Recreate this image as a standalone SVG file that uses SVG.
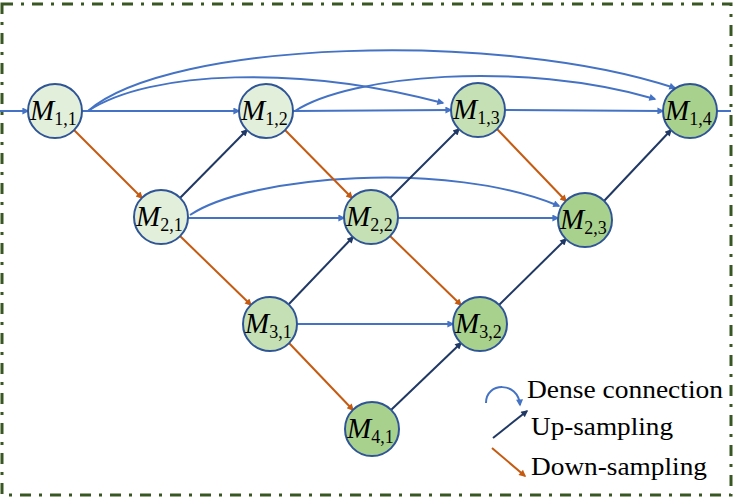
<svg xmlns="http://www.w3.org/2000/svg" width="735" height="498" viewBox="0 0 735 498">
<style>
.node circle{stroke:#2f5597;stroke-width:2}
.l1{fill:#e2efda}.l2{fill:#c5e0b4}.l3{fill:#a9d18e}
.lab{font-family:"Liberation Serif","Times New Roman",serif;fill:#000}
.m{font-style:italic;font-size:29px}
.s{font-size:18px}
.dense{stroke:#4472c4;stroke-width:2;fill:none;marker-end:url(#aB)}
.up{stroke:#203864;stroke-width:2;fill:none;marker-end:url(#aN)}
.down{stroke:#c55a11;stroke-width:2;fill:none;marker-end:url(#aO)}
.leg{font-family:"Liberation Serif","Times New Roman",serif;font-size:26px;fill:#000}
</style>
<defs>
<marker id="aB" viewBox="0 0 10 10" refX="8" refY="5" markerWidth="9" markerHeight="7" markerUnits="userSpaceOnUse" orient="auto"><path d="M0,0L10,5L0,10z" fill="#4472c4"/></marker>
<marker id="aN" viewBox="0 0 10 10" refX="8" refY="5" markerWidth="9" markerHeight="7" markerUnits="userSpaceOnUse" orient="auto"><path d="M0,0L10,5L0,10z" fill="#203864"/></marker>
<marker id="aO" viewBox="0 0 10 10" refX="8" refY="5" markerWidth="9" markerHeight="7" markerUnits="userSpaceOnUse" orient="auto"><path d="M0,0L10,5L0,10z" fill="#c55a11"/></marker>
</defs>
<rect x="2" y="4" width="729" height="491" fill="none" stroke="#385723" stroke-width="3" stroke-dasharray="11 8 3 8"/>
<g id="connectors">
<line class="dense" x1="0" y1="111" x2="28" y2="111"/>
<line x1="717" y1="111" x2="731" y2="111" stroke="#4472c4" stroke-width="2"/>
<line class="dense" x1="82" y1="111" x2="239" y2="111"/>
<line class="dense" x1="293" y1="111" x2="451" y2="110"/>
<line class="dense" x1="505" y1="110" x2="663" y2="111"/>
<line class="dense" x1="188" y1="218" x2="344" y2="218"/>
<line class="dense" x1="398" y1="218" x2="558" y2="218"/>
<line class="dense" x1="297" y1="324" x2="453" y2="324"/>
<path class="dense" d="M88,111 C170,40 500,30 675,88"/>
<path class="dense" d="M88,111 C150,70 300,65 443,103"/>
<path class="dense" d="M295,111 C350,75 520,60 655,99"/>
<path class="dense" d="M190,215 C250,175 450,160 559,206"/>
<line class="down" x1="74" y1="130" x2="142" y2="198"/>
<line class="down" x1="285" y1="130" x2="352" y2="198"/>
<line class="down" x1="497" y1="129" x2="566" y2="201"/>
<line class="down" x1="180" y1="236" x2="251" y2="305"/>
<line class="down" x1="390" y1="236" x2="461" y2="305"/>
<line class="down" x1="289" y1="343" x2="353" y2="410"/>
<line class="up" x1="180" y1="198" x2="247" y2="130"/>
<line class="up" x1="390" y1="198" x2="459" y2="129"/>
<line class="up" x1="604" y1="201" x2="671" y2="130"/>
<line class="up" x1="289" y1="304" x2="353" y2="237"/>
<line class="up" x1="499" y1="305" x2="566" y2="239"/>
<line class="up" x1="391" y1="410" x2="461" y2="343"/>
</g>
<g id="n11" class="node"><circle class="l1" cx="55" cy="111" r="27"/><text class="lab" x="30" y="120"><tspan class="m">M</tspan><tspan class="s" dy="5">1,1</tspan></text></g>
<g id="n12" class="node"><circle class="l1" cx="266" cy="111" r="27"/><text class="lab" x="241" y="120"><tspan class="m">M</tspan><tspan class="s" dy="5">1,2</tspan></text></g>
<g id="n13" class="node"><circle class="l2" cx="478" cy="110" r="27"/><text class="lab" x="453" y="119"><tspan class="m">M</tspan><tspan class="s" dy="5">1,3</tspan></text></g>
<g id="n14" class="node"><circle class="l3" cx="690" cy="111" r="27"/><text class="lab" x="665" y="120"><tspan class="m">M</tspan><tspan class="s" dy="5">1,4</tspan></text></g>
<g id="n21" class="node"><circle class="l1" cx="161" cy="217" r="27"/><text class="lab" x="136" y="226"><tspan class="m">M</tspan><tspan class="s" dy="5">2,1</tspan></text></g>
<g id="n22" class="node"><circle class="l2" cx="371" cy="217" r="27"/><text class="lab" x="346" y="226"><tspan class="m">M</tspan><tspan class="s" dy="5">2,2</tspan></text></g>
<g id="n23" class="node"><circle class="l3" cx="585" cy="220" r="27"/><text class="lab" x="560" y="229"><tspan class="m">M</tspan><tspan class="s" dy="5">2,3</tspan></text></g>
<g id="n31" class="node"><circle class="l2" cx="270" cy="324" r="27"/><text class="lab" x="245" y="333"><tspan class="m">M</tspan><tspan class="s" dy="5">3,1</tspan></text></g>
<g id="n32" class="node"><circle class="l3" cx="480" cy="324" r="27"/><text class="lab" x="455" y="333"><tspan class="m">M</tspan><tspan class="s" dy="5">3,2</tspan></text></g>
<g id="n41" class="node"><circle class="l3" cx="372" cy="429" r="27"/><text class="lab" x="347" y="438"><tspan class="m">M</tspan><tspan class="s" dy="5">4,1</tspan></text></g>
<g id="legend">
<path class="dense" d="M486,403 C486,382 518,381 520,405"/>
<line class="up" x1="493" y1="438" x2="527" y2="411"/>
<line class="down" x1="492" y1="448" x2="525" y2="476"/>
<text class="leg" x="527" y="398" textLength="196" lengthAdjust="spacingAndGlyphs">Dense connection</text>
<text class="leg" x="531" y="435" textLength="142" lengthAdjust="spacingAndGlyphs">Up-sampling</text>
<text class="leg" x="531" y="475" textLength="176" lengthAdjust="spacingAndGlyphs">Down-sampling</text>
</g>
</svg>
